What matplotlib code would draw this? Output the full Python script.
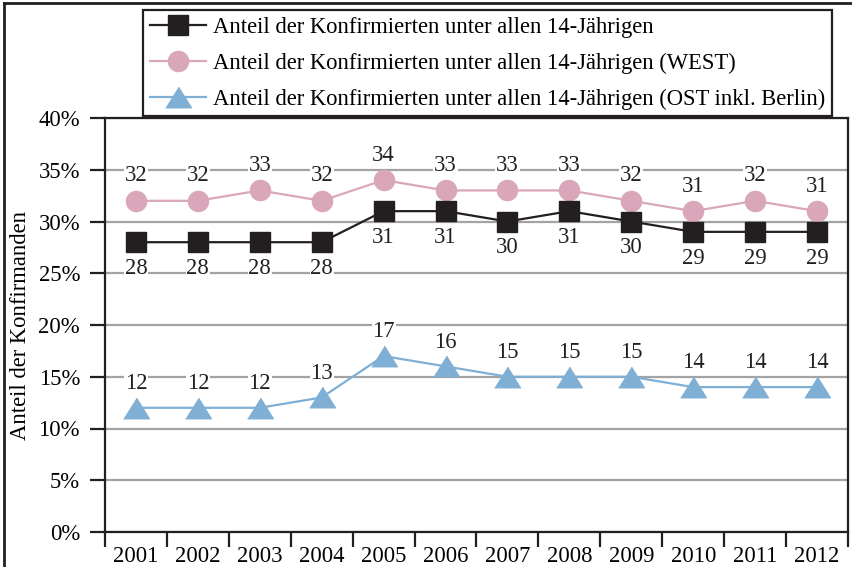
import matplotlib
matplotlib.use("Agg")
import matplotlib.pyplot as plt
from matplotlib.lines import Line2D
from matplotlib.ticker import FixedLocator, FuncFormatter
import numpy as np

years = ["2001", "2002", "2003", "2004", "2005", "2006", "2007", "2008", "2009", "2010", "2011", "2012"]
gesamt = [28, 28, 28, 28, 31, 31, 30, 31, 30, 29, 29, 29]
west = [32, 32, 33, 32, 34, 33, 33, 33, 32, 31, 32, 31]
ost = [12, 12, 12, 13, 17, 16, 15, 15, 15, 14, 14, 14]
labels = [
    "Anteil der Konfirmierten unter allen 14-Jährigen",
    "Anteil der Konfirmierten unter allen 14-Jährigen (WEST)",
    "Anteil der Konfirmierten unter allen 14-Jährigen (OST inkl. Berlin)",
]
yticks = [0, 5, 10, 15, 20, 25, 30, 35, 40]
ylabel = "Anteil der Konfirmanden"

plt.rcParams['font.family'] = ['Liberation Serif', 'DejaVu Serif']
FS = 16.3

fig = plt.figure(figsize=(8.52, 5.67), dpi=100)
ax = fig.add_axes([105/852, 35/567, (848-105)/852, (532-118)/567])

x = np.arange(len(years))
black = "#231f20"
pink = "#d9a7b9"
blue = "#7fafd4"
tri = [(-1, -0.8), (1, -0.8), (0, 0.8)]

l1, = ax.plot(x, gesamt, color=black, lw=1.6, marker='s', ms=14, zorder=5)
l2, = ax.plot(x, west, color=pink, lw=1.6, marker='o', ms=14.5, zorder=4)
l3, = ax.plot(x, ost, color=blue, lw=1.6, marker=tri, ms=18.5, zorder=4)

bb = dict(facecolor='white', edgecolor='none', pad=0.5)
for xi, v in zip(x, west):
    ax.annotate(str(v), (xi, v), xytext=(0, 18), textcoords='offset points',
                ha='center', va='center', fontsize=FS, color='#231f20', bbox=bb, zorder=3)
for xi, v in zip(x, gesamt):
    ax.annotate(str(v), (xi, v), xytext=(0, -19), textcoords='offset points',
                ha='center', va='center', fontsize=FS, color='#231f20', bbox=bb, zorder=3)
for xi, v in zip(x, ost):
    ax.annotate(str(v), (xi, v), xytext=(0, 17.5), textcoords='offset points',
                ha='center', va='center', fontsize=FS, color='#231f20', bbox=bb, zorder=3)

ax.set_xlim(-0.5, len(years) - 0.5)
ax.set_ylim(0, 40)
ax.set_yticks(yticks)
ax.set_yticklabels([f"{t}%" for t in yticks], fontsize=FS)
ax.yaxis.grid(True, color='#a3a3a3', lw=1.6, zorder=1)
ax.set_axisbelow(True)

ax.xaxis.set_major_locator(FixedLocator(np.arange(-0.5, len(years), 1.0)))
ax.xaxis.set_major_formatter(FuncFormatter(lambda v, p: ""))
ax.xaxis.set_minor_locator(FixedLocator(x))
ax.set_xticklabels(years, minor=True, fontsize=FS)
ax.tick_params(axis='x', which='major', direction='out', length=11, width=1.6, color=black)
ax.tick_params(axis='x', which='minor', length=0, pad=10)
ax.tick_params(axis='y', direction='out', length=11, width=1.6, color=black, pad=7)

for s in ax.spines.values():
    s.set_color(black)
    s.set_linewidth(1.6)

ax.set_ylabel(ylabel, fontsize=FS)
ax.yaxis.set_label_coords(-74/743, 0.5)

leg = fig.legend([l1, l2, l3], labels, loc='upper left',
                 bbox_to_anchor=(143/852, 1 - 10/567), fontsize=FS,
                 frameon=True, fancybox=False, framealpha=1, handlelength=2.5, handletextpad=0.3,
                 borderpad=0.3, labelspacing=0.65, borderaxespad=0)
leg.get_frame().set_edgecolor(black)
leg.get_frame().set_linewidth(1.6)

# outer frame (left and top edges)
fig.add_artist(Line2D([4/852, 4/852], [0, 1 - 3/567], transform=fig.transFigure, color=black, lw=2))
fig.add_artist(Line2D([4/852, 1], [1 - 3/567, 1 - 3/567], transform=fig.transFigure, color=black, lw=2))

fig.savefig("out.png", dpi=100)
